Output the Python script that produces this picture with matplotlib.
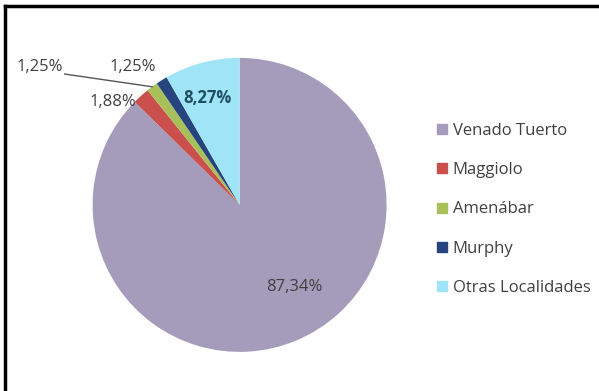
import numpy as np
import matplotlib.pyplot as plt
from matplotlib.lines import Line2D

plt.rcParams['font.family'] = ['Open Sans', 'DejaVu Sans']

localidades = ['Venado Tuerto', 'Maggiolo', 'Amenábar', 'Murphy', 'Otras Localidades']
porcentajes = [87.34, 1.88, 1.25, 1.25, 8.27]
etiquetas = ['87,34%', '1,88%', '1,25%', '1,25%', '8,27%']
colores = ['#A59CBB', '#C9504C', '#A8C05A', '#26457E', '#A0E4F8']

fig = plt.figure(figsize=(5.99, 3.91), dpi=100)
ax = fig.add_axes([0.4 - 0.2454, 0.476 - 0.376, 0.4908, 0.752])
cuñas, _ = ax.pie(porcentajes, colors=colores, startangle=90, counterclock=False,
                  radius=1.0, wedgeprops=dict(linewidth=0))
ax.set_aspect('equal')
ax.set_xlim(-1, 1)
ax.set_ylim(-1, 1)

gris = '#404040'
fs = 12
ax.text(0.37, -0.56, etiquetas[0], ha='center', va='center', fontsize=fs, color=gris)
ax.text(-0.22, 0.73, etiquetas[4], ha='center', va='center', fontsize=fs,
        color='#1F4F5F', fontweight='bold')
ax.text(-0.86, 0.70, etiquetas[1], ha='center', va='center', fontsize=fs, color=gris)
ax.text(-0.73, 0.94, etiquetas[3], ha='center', va='center', fontsize=fs, color=gris)
ax.text(-1.36, 0.94, etiquetas[2], ha='center', va='center', fontsize=fs, color=gris,
        clip_on=False)
# linea guia hacia Amenabar
w = cuñas[2]
ang = np.deg2rad((w.theta1 + w.theta2) / 2)
ax.plot([-1.19, np.cos(ang)], [0.89, np.sin(ang)],
        color='#555555', lw=1, clip_on=False)

handles = [Line2D([], [], marker='s', ls='', color=c, markersize=6.5) for c in colores]
fig.legend(handles, localidades, loc='upper left', bbox_to_anchor=(0.718, 0.703),
           frameon=False, fontsize=fs, labelcolor=gris, handlelength=0.6,
           handletextpad=0.36, labelspacing=1.4, borderaxespad=0)

# marco negro arriba e izquierda
fig.add_artist(Line2D([0.008, 0.008], [0.0, 0.985], color='black', lw=2.5))
fig.add_artist(Line2D([0.008, 1.0], [0.985, 0.985], color='black', lw=2.5))

fig.savefig('out.png', dpi=100)
